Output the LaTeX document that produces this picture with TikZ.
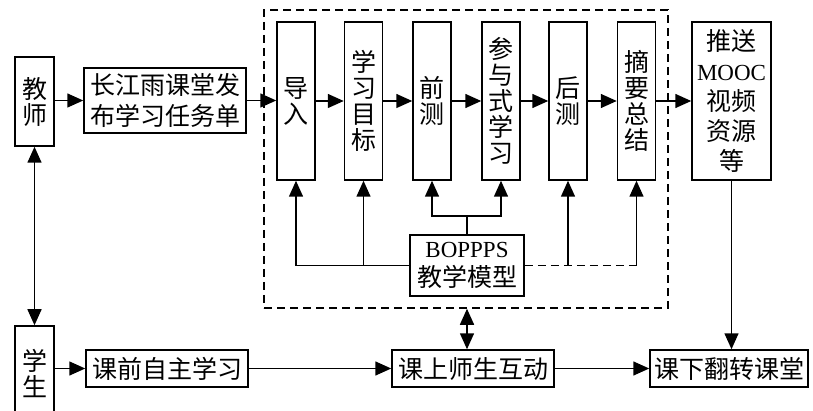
\documentclass[tikz,border=0pt]{standalone}
\usepackage{fontspec}
\setmainfont{Liberation Serif}
\newfontfamily\cjk{Noto Sans CJK SC}
\usetikzlibrary{arrows.meta}

\begin{document}
\begin{tikzpicture}[x=1pt,y=-1pt,line width=1.5pt,
    box/.style={draw,inner sep=0pt,align=center,font=\cjk\fontsize{25}{26}\selectfont},
    stage/.style={box,minimum width=38,minimum height=158},
    arr/.style={-{Triangle[length=16pt,width=14pt]}},
    dbl/.style={{Triangle[length=16pt,width=14pt]}-{Triangle[length=16pt,width=14pt]}}]
    \useasboundingbox (0,0) rectangle (813,411);
    % BOPPPS frame
    \node[draw,dash pattern=on 8pt off 5pt,minimum width=404,minimum height=298] (frame) at (466,159) {};
    \node[box,minimum width=39,minimum height=89] (teacher) at (34.5,101.5) {教\\师};
    \node[box,minimum width=162,minimum height=65,font=\cjk\fontsize{25}{31}\selectfont] (task) at (165,100.5) {长江雨课堂发\\布学习任务单};
    \node[stage] (intro) at (296,101) {导\\入};
    \node[stage] (goal) at (363.5,101) {学\\习\\目\\标};
    \node[stage] (pretest) at (432,101) {前\\测};
    \node[stage] (partic) at (501,101) {参\\与\\式\\学\\习};
    \node[stage] (posttest) at (568,101) {后\\测};
    \node[stage] (summary) at (636.5,101) {摘\\要\\总\\结};
    \node[box,minimum width=79,minimum height=158,font=\cjk\fontsize{25}{30}\selectfont] (mooc) at (731.5,101) {推送\\{\rmfamily\fontsize{23}{30}\selectfont MOOC}\\视频\\资源\\等};
    \node[box,minimum width=114,minimum height=61,font=\cjk\fontsize{25}{29}\selectfont] (boppps) at (467,265.5) {{\rmfamily\fontsize{23}{29}\selectfont BOPPPS}\\教学模型};
    \node[box,minimum width=39,minimum height=94] (student) at (34.5,373) {学\\生};
    \node[box,minimum width=162,minimum height=37] (pre) at (167,368.5) {课前自主学习};
    \node[box,minimum width=162,minimum height=37] (inclass) at (473,368.5) {课上师生互动};
    \node[box,minimum width=158,minimum height=37] (after) at (729,368.5) {课下翻转课堂};
    % top row
    \draw[arr] (teacher.east |- task) -- (task.west);
    \draw[arr] (task.east) -- (intro.west |- task);
    \draw[arr] (intro) -- (goal);
    \draw[arr] (goal) -- (pretest);
    \draw[arr] (pretest) -- (partic);
    \draw[arr] (partic) -- (posttest);
    \draw[arr] (posttest) -- (summary);
    \draw[arr] (summary) -- (mooc);
    % feedback from the model
    \draw[arr] (boppps.west) -| (intro.south);
    \draw[arr] (goal.south |- boppps.west) -- (goal.south);
    \draw (boppps.north) -- ++(0,-18) coordinate (fork);
    \draw[arr] (fork) -| (pretest.south);
    \draw[arr] (fork) -| (partic.south);
    \draw[dash pattern=on 8pt off 5pt] (boppps.east) -- (summary.south |- boppps.east);
    \draw[arr] (posttest.south |- boppps.east) -- (posttest.south);
    \draw[arr] (summary.south |- boppps.east) -- (summary.south);
    % bottom row
    \draw[dbl] (teacher) -- (student);
    \draw[arr] (student.east |- pre) -- (pre.west);
    \draw[arr] (pre) -- (inclass);
    \draw[arr] (inclass) -- (after);
    \draw[dbl] (frame.south -| boppps) -- (inclass.north -| boppps);
    \draw[arr] (mooc.south) -- (mooc.south |- after.north);
\end{tikzpicture}
\end{document}
